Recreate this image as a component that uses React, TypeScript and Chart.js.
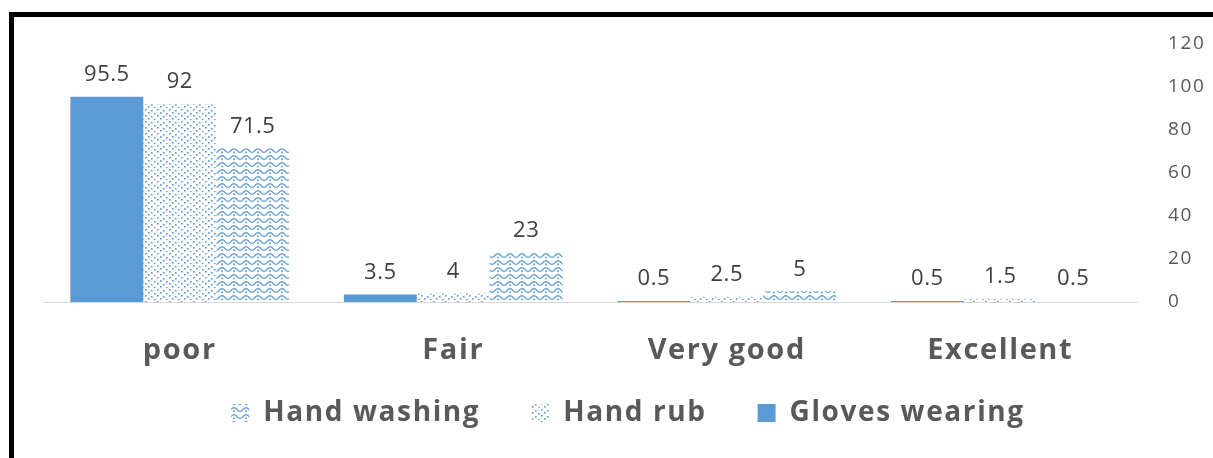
import React, { useEffect, useRef } from "react";
import { Chart, registerables } from "chart.js";

Chart.register(...registerables);

const categories = ["poor", "Fair", "Very good", "Excellent"];
const glovesWearing = [95.5, 3.5, 0.5, 0.5];
const handRub = [92, 4, 2.5, 1.5];
const handWashing = [71.5, 23, 5, 0.5];
const yTicks = [0, 20, 40, 60, 80, 100, 120];

const BLUE = "#5b9bd5";
const FONT = "'Open Sans', sans-serif";

function dotPattern(): CanvasPattern | string {
  const c = document.createElement("canvas");
  c.width = 12;
  c.height = 12;
  const g = c.getContext("2d");
  if (!g) return BLUE;
  g.fillStyle = "#ffffff";
  g.fillRect(0, 0, 12, 12);
  g.fillStyle = BLUE;
  const pts = [
    [1, 1], [7, 2], [4, 4], [10, 5], [1, 7], [7, 8], [4, 10], [10, 11],
  ];
  pts.forEach(([x, y]) => g.fillRect(x, y, 1.6, 1.6));
  return g.createPattern(c, "repeat") || BLUE;
}

function wavePattern(): CanvasPattern | string {
  const c = document.createElement("canvas");
  c.width = 12;
  c.height = 7;
  const g = c.getContext("2d");
  if (!g) return BLUE;
  g.fillStyle = "#ffffff";
  g.fillRect(0, 0, 12, 7);
  g.strokeStyle = BLUE;
  g.lineWidth = 1.3;
  g.beginPath();
  for (let x = 0; x <= 12; x += 0.5) {
    const y = 3.5 + 1.8 * Math.cos((x / 12) * Math.PI * 2);
    if (x === 0) g.moveTo(x, y);
    else g.lineTo(x, y);
  }
  g.stroke();
  g.fillStyle = BLUE;
  g.fillRect(5.2, 4.6, 1.8, 1.6);
  return g.createPattern(c, "repeat") || BLUE;
}

const spacing = {
  id: "spacing",
  beforeUpdate(chart: any) {
    chart.ctx.letterSpacing = "1.6px";
  },
  beforeDraw(chart: any) {
    chart.ctx.letterSpacing = "1.6px";
  },
};

const valueLabels = {
  id: "valueLabels",
  afterDatasetsDraw(chart: any) {
    const ctx = chart.ctx;
    ctx.save();
    ctx.letterSpacing = "0.5px";
    ctx.font = `22px ${FONT}`;
    ctx.fillStyle = "#404040";
    ctx.textAlign = "center";
    ctx.textBaseline = "middle";
    chart.data.datasets.forEach((ds: any, i: number) => {
      const meta = chart.getDatasetMeta(i);
      meta.data.forEach((bar: any, j: number) => {
        ctx.fillText(String(ds.data[j]), bar.x, bar.y - 22);
      });
    });
    ctx.restore();
  },
};

export default function App() {
  const ref = useRef<HTMLCanvasElement>(null);
  useEffect(() => {
    if (!ref.current) return;
    const chart = new Chart(ref.current, {
      type: "bar",
      data: {
        labels: categories,
        datasets: [
          { label: "Gloves wearing", data: glovesWearing, backgroundColor: BLUE, borderWidth: 0 },
          { label: "Hand rub", data: handRub, backgroundColor: dotPattern() as any, borderWidth: 0 },
          { label: "Hand washing", data: handWashing, backgroundColor: wavePattern() as any, borderWidth: 0 },
        ],
      },
      options: {
        animation: false,
        responsive: false,
        layout: { padding: { left: 43, top: 44, right: 0, bottom: 21 } },
        datasets: { bar: { categoryPercentage: 0.8, barPercentage: 1 } },
        plugins: {
          tooltip: { enabled: false },
          legend: {
            position: "bottom",
            reverse: true,
            labels: {
              color: "#595959",
              font: { family: FONT, size: 28, weight: "bold" },
              boxWidth: 18,
              boxHeight: 18,
              padding: 51,
            },
          },
        },
        scales: {
          x: {
            grid: { display: false, drawTicks: false },
            border: { display: true, color: "#d9d9d9", width: 1 },
            ticks: {
              color: "#595959",
              font: { family: FONT, size: 29, weight: "bold" },
              padding: 31,
            },
            afterFit: (s: any) => {
              s.height = 46;
              s._computeLabelArea = () => null;
            },
          },
          y: {
            position: "right",
            min: 0,
            max: 120,
            grid: { display: false, drawTicks: false },
            border: { display: false },
            afterBuildTicks: (s: any) => { s.ticks = yTicks.map((v) => ({ value: v })); },
            ticks: {
              color: "#595959",
              font: { family: FONT, size: 19 },
              padding: 31,
            },
            afterFit: (s: any) => { s.width = 76; },
          },
        },
      },
      plugins: [spacing, valueLabels],
    });
    return () => chart.destroy();
  }, []);
  return (
    <div style={{ position: "fixed", left: 0, top: 0, width: 1213, height: 458, background: "#fff" }}>
      <canvas ref={ref} width={1213} height={458} style={{ position: "absolute", left: 0, top: 0 }} />
      <div
        style={{
          position: "absolute",
          left: 9,
          top: 12,
          right: 0,
          bottom: 0,
          borderLeft: "5px solid #000",
          borderTop: "5px solid #000",
          pointerEvents: "none",
        }}
      />
    </div>
  );
}
